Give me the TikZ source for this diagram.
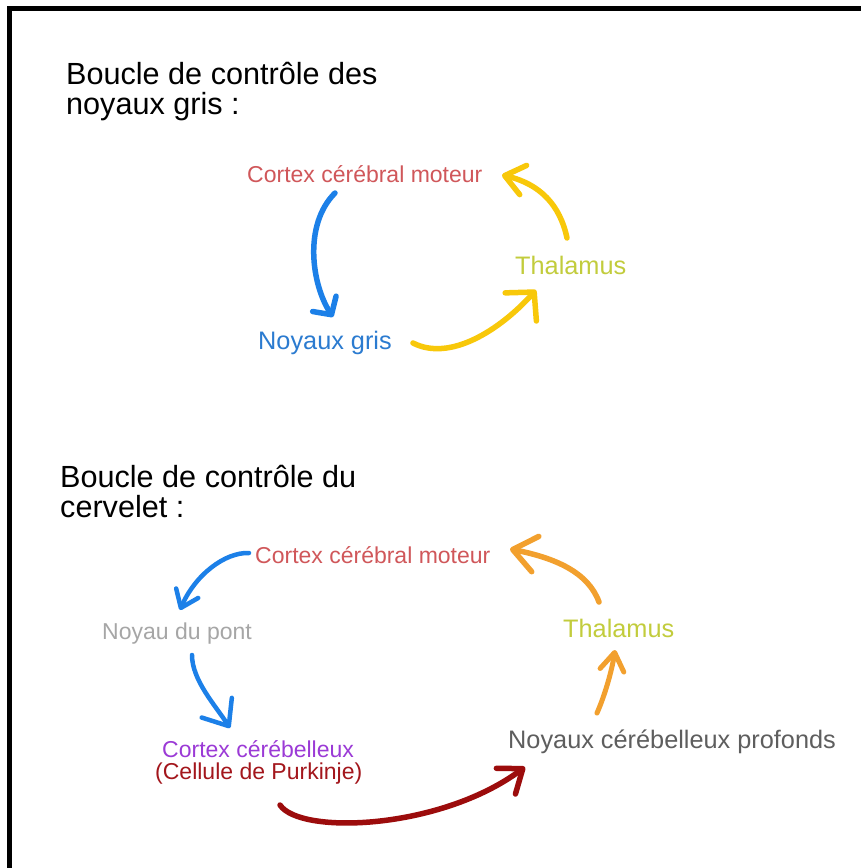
\documentclass[tikz,border=0pt]{standalone}
\usepackage{fontspec}
\setmainfont{Liberation Sans}
\usetikzlibrary{arrows.meta}
\definecolor{redtxt}{HTML}{D0575A}
\definecolor{bluetxt}{HTML}{2B7BD0}
\definecolor{bluearr}{HTML}{1C80E8}
\definecolor{yellowarr}{HTML}{F8C80A}
\definecolor{thaltxt}{HTML}{C2CC3C}
\definecolor{graytxt}{HTML}{A6A6A6}
\definecolor{purpletxt}{HTML}{9B3AD6}
\definecolor{darkredtxt}{HTML}{A3161C}
\definecolor{darkredarr}{HTML}{9C0C0C}
\definecolor{graydk}{HTML}{5E5E5E}
\definecolor{orangearr}{HTML}{F2A02E}
\begin{document}
\begin{tikzpicture}[x=1pt,y=-1pt,
  titletxt/.style={inner sep=0pt, anchor=base west, font=\fontsize{30.6}{30}\selectfont},
  lblsmall/.style={inner sep=0pt, anchor=base west, font=\fontsize{23}{23}\selectfont},
  lblbig/.style={inner sep=0pt, anchor=base west, font=\fontsize{25.3}{25}\selectfont},
  hand/.style={line width=5pt, line cap=round, line join=round}]
\useasboundingbox (0,0) rectangle (861,868);
\fill[white] (0,0) rectangle (861,868);
\draw[line width=5.5pt] (9.5,868) -- (9.5,8.5) -- (861,8.5);

% ---- section 1
\node[titletxt] (t1a) at (66,84) {Boucle de contrôle des};
\node[titletxt] (t1b) at (66,114) {noyaux gris :};
\node[lblsmall, text=redtxt] (c1) at (247,182) {Cortex cérébral moteur};
\node[lblbig, text=thaltxt] (th1) at (515,274) {Thalamus};
\node[lblbig, text=bluetxt] (ng) at (258,349) {Noyaux gris};

\coordinate (a1s) at (335,193); \coordinate (a1e) at (333,317);
\coordinate (a2s) at (413,343); \coordinate (a2e) at (536,290);
\coordinate (a3s) at (567,238); \coordinate (a3e) at (502,175);

\draw[hand, bluearr, line width=5.5pt, -{Straight Barb[length=13pt, width=28pt, round]}]
  (a1s) .. controls (303,225) and (312,285) .. (a1e);
\draw[hand, yellowarr, line width=5.5pt, -{Straight Barb[length=20pt, width=42pt, round]}]
  (a2s) .. controls (450,362) and (500,330) .. (a2e);
\draw[hand, yellowarr, line width=5.5pt, -{Straight Barb[length=19pt, width=30pt, round]}]
  (a3s) .. controls (560,205) and (540,184) .. (a3e);

% ---- section 2
\node[titletxt] (t2a) at (60,487) {Boucle de contrôle du};
\node[titletxt] (t2b) at (60,517) {cervelet :};
\node[lblsmall, text=redtxt] (c2) at (255,563) {Cortex cérébral moteur};
\node[lblsmall, text=graytxt] (np) at (102,639) {Noyau du pont};
\node[lblsmall, text=purpletxt] (cc) at (162,757) {Cortex cérébelleux};
\node[lblsmall, text=darkredtxt] (pk) at (155,779) {(Cellule de Purkinje)};
\node[lblbig, text=graydk] (ncp) at (508,748) {Noyaux cérébelleux profonds};
\node[lblbig, text=thaltxt] (th2) at (563,637) {Thalamus};

\coordinate (b1s) at (249,553); \coordinate (b1e) at (180,610);
\coordinate (b2s) at (192,655); \coordinate (b2e) at (230,728);
\coordinate (b3s) at (280,805); \coordinate (b3e) at (525,767);
\coordinate (b4s) at (597,713); \coordinate (b4e) at (615,650);
\coordinate (b5s) at (599,602); \coordinate (b5e) at (510,549);

\draw[hand, bluearr, line width=4.5pt, -{Straight Barb[length=16pt, width=24pt, round]}]
  (b1s) .. controls (225,552) and (195,575) .. (b1e);
\draw[hand, bluearr, line width=4.5pt, -{Straight Barb[length=22pt, width=36pt, round]}]
  (b2s) .. controls (192,680) and (215,705) .. (b2e);
\draw[hand, darkredarr, line width=5.5pt, -{Straight Barb[length=21pt, width=32pt, round]}]
  (b3s) .. controls (300,835) and (440,830) .. (b3e);
\draw[hand, orangearr, -{Straight Barb[length=18pt, width=24pt, round]}]
  (b4s) .. controls (605,695) and (612,670) .. (b4e);
\draw[hand, orangearr, line width=5.5pt, -{Straight Barb[length=23pt, width=36pt, round]}]
  (b5s) .. controls (588,572) and (555,558) .. (b5e);
\end{tikzpicture}
\end{document}
